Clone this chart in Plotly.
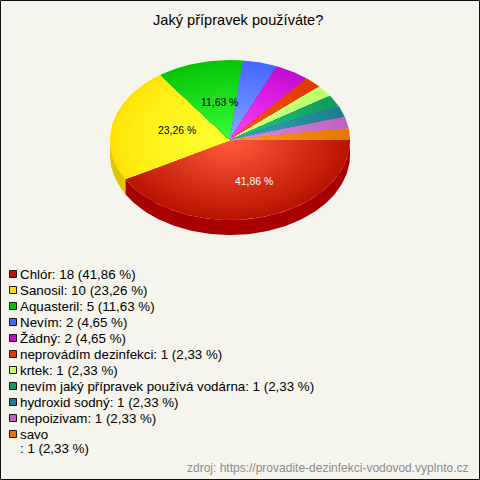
import math
import plotly.graph_objects as go

names = ["Chlór", "Sanosil", "Aquasteril", "Nevím", "Žádný", "neprovádím dezinfekci", "krtek",
         "nevím jaký přípravek používá vodárna", "hydroxid sodný", "nepoizivam", "savo\n"]
counts = [18, 10, 5, 2, 2, 1, 1, 1, 1, 1, 1]
percents = ["41,86", "23,26", "11,63", "4,65", "4,65", "2,33", "2,33", "2,33", "2,33", "2,33", "2,33"]
inner_colors = ["#ff5c3e", "#ffff30", "#36ff36", "#86a8ff", "#ff40ff", "#ff5a14", "#d2ff8c", "#30c488", "#40a4b8", "#e488e4", "#ff9e1c"]
outer_colors = ["#b81400", "#ffe000", "#08c408", "#4468ff", "#c40cd0", "#e03800", "#bcff68", "#0c9c5c", "#1c7c90", "#bc64bc", "#e47800"]
side_colors = ["#a80000", "#e0c800"]
legend_colors = ["#c01400", "#ffe000", "#08c008", "#4468ff", "#c40cd0", "#e03800", "#c4ff70", "#0c9c5c", "#1c7c90", "#bc64bc", "#e47800"]
title = "Jaký přípravek používáte?"
source = "zdroj: https://provadite-dezinfekci-vodovod.vyplnto.cz"
bg = "#f5f5ee"

CX, CY, RX, RY, DEPTH = 230, 140, 120, 80, 15
STEPS = 48
LABEL_FX = [0.80, 0.45, 0.33]
LABEL_FY = [0.53, 0.52, 0.48]
SHADE_POWER = [1, 0.5, 1, 1, 1, 1, 1, 1, 1, 1, 1]
fig = go.Figure()
total = sum(counts)


def arc(a0, a1, f=1.0, dy=0):
    n = max(3, int(abs(a1 - a0) / 0.02))
    return [(CX + f * RX * math.cos(a0 + (a1 - a0) * i / n),
             CY + dy + f * RY * math.sin(a0 + (a1 - a0) * i / n)) for i in range(n + 1)]


def poly(points, color):
    fig.add_trace(go.Scatter(x=[p[0] for p in points], y=[p[1] for p in points], mode="lines",
                             fill="toself", fillcolor=color, line=dict(width=0), hoverinfo="skip",
                             showlegend=False))


def mix(c0, c1, t):
    a = [int(c0[i:i + 2], 16) for i in (1, 3, 5)]
    b = [int(c1[i:i + 2], 16) for i in (1, 3, 5)]
    return "rgb(%d,%d,%d)" % tuple(round(a[i] + (b[i] - a[i]) * t) for i in range(3))


angles = [0]
for c in counts:
    angles.append(angles[-1] + c / total * 2 * math.pi)

# side wall (only the front half is visible)
for i, color in enumerate(side_colors):
    a0, a1 = angles[i], min(angles[i + 1], math.pi)
    poly(arc(a0, a1) + arc(a1, a0, dy=DEPTH), color)

# top, radial shading drawn from the rim inwards
for i in range(len(counts)):
    a0, a1 = angles[i], angles[i + 1]
    for s in range(STEPS):
        f = 1 - s / STEPS
        t = (s / (STEPS - 1)) ** SHADE_POWER[i]
        poly([(CX, CY)] + arc(a0, a1, f) + [(CX, CY)], mix(outer_colors[i], inner_colors[i], t))

# legend swatches
rows = []
y = 274
for i in range(len(counts)):
    rows.append(y)
    y += 16
fig.add_trace(go.Scatter(x=[13] * len(rows), y=rows, mode="markers", hoverinfo="skip", showlegend=False,
                         marker=dict(symbol="square", size=7, color=legend_colors,
                                     line=dict(color="#1a1a1a", width=1))))

ann = []


def text(x, y, s, size, color="#000000", anchor="left"):
    ann.append(dict(x=x, y=y, xref="x", yref="y", text=s, showarrow=False, xanchor=anchor, yanchor="middle",
                    font=dict(family="Liberation Sans", size=size, color=color)))


for i, n in enumerate(names):
    line = f"{n.strip()}: {counts[i]} ({percents[i]} %)"
    if n.endswith("\n"):
        text(18, rows[i], n.strip(), 13.33)
        text(18, rows[i] + 14, f": {counts[i]} ({percents[i]} %)", 13.33)
    else:
        text(18, rows[i], line, 13.33)

for i, col in zip(range(3), ["#ffffff", "#000000", "#000000"]):
    mid = (angles[i] + angles[i + 1]) / 2
    text(CX + LABEL_FX[i] * RX * math.cos(mid), CY + LABEL_FY[i] * RY * math.sin(mid),
         f"{percents[i]} %", 10.4, col, "center")

text(237.5, 20, title, 14.6, anchor="center")
text(470, 468, source, 12, "#8c8c8c", "right")

fig.update_layout(
    width=480, height=480, margin=dict(l=0, r=0, t=0, b=0), autosize=False,
    paper_bgcolor=bg, plot_bgcolor=bg, annotations=ann,
    xaxis=dict(range=[0, 480], visible=False, fixedrange=True),
    yaxis=dict(range=[480, 0], visible=False, fixedrange=True),
    shapes=[dict(type="rect", xref="x", yref="y", x0=0.5, y0=0.5, x1=479.5, y1=479.5,
                 line=dict(color="#111111", width=1))],
)
fig.write_html("out.html", config={"displayModeBar": False},
               default_height=480, default_width=480,
               post_script="document.body.style.margin='0';document.documentElement.style.overflow='hidden';")
